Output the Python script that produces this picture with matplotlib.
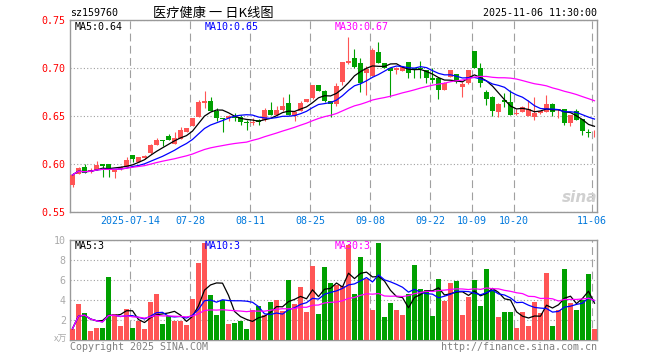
import matplotlib
matplotlib.use("Agg")
import matplotlib.pyplot as plt
import numpy as np
import pandas as pd

symbol = "sz159760"
title = "医疗健康 一 日K线图"
stamp = "2025-11-06 11:30:00"

# daily candles, 2025-06-30 .. 2025-11-06
opens = [0.578, 0.590, 0.5975, 0.5917, 0.5941, 0.600, 0.600, 0.5923, 0.5951, 0.5975,
         0.6094, 0.6027, 0.6063, 0.6115, 0.6201, 0.6253, 0.6292, 0.6211, 0.6264, 0.634,
         0.6399, 0.6496, 0.6635, 0.6659, 0.6558, 0.6485, 0.6479, 0.6496, 0.6496, 0.6444,
         0.6433, 0.6458, 0.6461, 0.6566, 0.6514, 0.6566, 0.6635, 0.6498, 0.656, 0.6652,
         0.6688, 0.6826, 0.6764, 0.6659, 0.6628, 0.686, 0.7052, 0.711, 0.7052, 0.6956,
         0.692, 0.7173, 0.7055, 0.6998, 0.6983, 0.6975, 0.7063, 0.6998, 0.700, 0.6982,
         0.6899, 0.6896, 0.6774, 0.6913, 0.6938, 0.6808, 0.6844, 0.718, 0.7006, 0.675,
         0.6704, 0.6548, 0.667, 0.6652, 0.6525, 0.655, 0.6505, 0.6496, 0.6531, 0.6548,
         0.6631, 0.6562, 0.6573, 0.6433, 0.6552, 0.6469, 0.634, 0.6322]
closes = [0.589, 0.5965, 0.5913, 0.5941, 0.5993, 0.5985, 0.5941, 0.5951, 0.5975, 0.6045,
          0.6058, 0.6071, 0.609, 0.6201, 0.6253, 0.6243, 0.6253, 0.6271, 0.6354, 0.6373,
          0.6479, 0.6646, 0.6659, 0.6558, 0.6485, 0.6475, 0.6506, 0.6485, 0.6444, 0.6427,
          0.6444, 0.644, 0.6566, 0.6514, 0.6566, 0.6607, 0.6514, 0.655, 0.6639, 0.668,
          0.6826, 0.6767, 0.6659, 0.6628, 0.6816, 0.7069, 0.7079, 0.7017, 0.6844, 0.6993,
          0.7191, 0.7058, 0.7008, 0.6977, 0.7002, 0.7014, 0.6954, 0.6982, 0.699, 0.6894,
          0.6878, 0.6774, 0.6852, 0.6982, 0.6854, 0.6833, 0.6982, 0.7006, 0.6844, 0.668,
          0.656, 0.6628, 0.6652, 0.6514, 0.6529, 0.6592, 0.6571, 0.6531, 0.6555, 0.6631,
          0.6548, 0.6573, 0.6427, 0.6514, 0.6461, 0.6352, 0.6323, 0.6328]
highs = [0.5895, 0.597, 0.600, 0.596, 0.6034, 0.6005, 0.600, 0.5955, 0.598, 0.6076,
         0.6095, 0.6075, 0.6095, 0.6211, 0.6271, 0.6255, 0.6316, 0.6333, 0.6385, 0.6375,
         0.648, 0.667, 0.6764, 0.6704, 0.6583, 0.6487, 0.6514, 0.6538, 0.6514, 0.6458,
         0.6479, 0.6475, 0.6583, 0.6652, 0.6607, 0.6704, 0.6732, 0.6552, 0.6663, 0.6685,
         0.683, 0.6828, 0.677, 0.666, 0.6844, 0.707, 0.7329, 0.7204, 0.7104, 0.7024,
         0.7208, 0.7271, 0.706, 0.700, 0.7014, 0.7015, 0.7065, 0.700, 0.7076, 0.6985,
         0.700, 0.690, 0.6855, 0.6985, 0.694, 0.686, 0.6985, 0.7185, 0.7052, 0.6774,
         0.671, 0.6642, 0.674, 0.6774, 0.6576, 0.6607, 0.667, 0.6704, 0.6558, 0.6722,
         0.6635, 0.6575, 0.6575, 0.6515, 0.6576, 0.647, 0.6368, 0.6357]
lows = [0.5765, 0.5895, 0.591, 0.591, 0.594, 0.5871, 0.587, 0.586, 0.5945, 0.597,
        0.6027, 0.602, 0.606, 0.611, 0.620, 0.6194, 0.625, 0.621, 0.626, 0.6335,
        0.6395, 0.649, 0.6583, 0.6555, 0.6451, 0.634, 0.6454, 0.6454, 0.641, 0.6357,
        0.641, 0.6405, 0.6455, 0.651, 0.651, 0.656, 0.651, 0.6454, 0.6555, 0.6648,
        0.668, 0.676, 0.665, 0.6496, 0.661, 0.6826, 0.705, 0.700, 0.675, 0.6727,
        0.6915, 0.7055, 0.700, 0.670, 0.694, 0.697, 0.6902, 0.6899, 0.6896, 0.6844,
        0.6844, 0.6683, 0.677, 0.691, 0.685, 0.6704, 0.684, 0.700, 0.6808, 0.6618,
        0.6503, 0.6496, 0.660, 0.651, 0.6514, 0.6545, 0.650, 0.6461, 0.6525, 0.6545,
        0.6503, 0.6482, 0.641, 0.6402, 0.646, 0.6305, 0.6288, 0.6288]
# volume in units of 10k lots
volumes = [1.13, 3.63, 2.7, 0.93, 1.23, 1.23, 6.3, 2.6, 1.4, 3.1,
           1.23, 1.9, 1.1, 3.8, 4.63, 1.6, 2.4, 1.9, 1.9, 1.5,
           4.1, 7.7, 9.73, 4.5, 2.5, 4.0, 1.6, 1.7, 1.9, 1.1,
           3.0, 3.4, 2.5, 3.8, 4.0, 2.9, 6.0, 3.6, 5.3, 2.8,
           7.4, 2.6, 7.3, 5.7, 5.5, 5.4, 9.5, 4.6, 8.33, 6.1,
           3.0, 9.73, 2.3, 3.7, 3.0, 2.5, 4.6, 7.5, 5.1, 5.0,
           2.4, 6.1, 3.9, 5.7, 5.9, 2.5, 4.3, 6.0, 3.4, 7.1,
           5.0, 2.3, 2.8, 2.8, 1.2, 2.8, 1.4, 3.8, 2.7, 6.7,
           1.4, 3.0, 7.1, 3.7, 3.0, 4.0, 6.6, 1.1]

tick_idx = [10, 20, 30, 40, 50, 60, 67, 74, 87]
tick_labels = ["2025-07-14", "07-28", "08-11", "08-25", "09-08",
               "09-22", "10-09", "10-20", "11-06"]
price_ticks = [0.55, 0.60, 0.65, 0.70, 0.75]
vol_ticks = [2, 4, 6, 8, 10]

RED = "#ff5555"
GREEN = "#00a000"
GRID = "#a0a0a0"
LIGHT = "#aaaaaa"
FRAME = "#999999"
BLUE = "#0078dc"
MONO = "DejaVu Sans Mono"
CJK = ["Noto Sans CJK SC", "DejaVu Sans"]
FS = 7.2

W, H = 660, 360


def fx(px):
    return px / W


def fy(py):
    return 1 - py / H


df = pd.DataFrame({"open": opens, "high": highs, "low": lows,
                   "close": closes, "vol": volumes})
x = np.arange(len(df))
up = (df["close"] >= df["open"]).to_numpy()
colors = np.where(up, RED, GREEN)

ma = {n: df["close"].rolling(n, min_periods=1).mean() for n in (5, 10, 30)}
vma = {n: df["vol"].rolling(n, min_periods=1).mean() for n in (5, 10, 30)}
ma_colors = {5: "black", 10: "#0000ff", 30: "#ff00ff"}

fig = plt.figure(figsize=(6.6, 3.6), dpi=100)
ax = fig.add_axes([fx(70), fy(212.3), 527 / W, 192 / H])
vax = fig.add_axes([fx(70), fy(340), 527 / W, 100 / H])

# candles
ax.vlines(x, df["low"], df["high"], colors=colors, linewidth=0.8, zorder=3)
body = (df["close"] - df["open"]).abs().clip(lower=0.0009)
ax.bar(x, body, bottom=np.minimum(df["open"], df["close"]), width=0.82,
       color=colors, linewidth=0, zorder=3)
for n in (5, 10, 30):
    ax.plot(x, ma[n], color=ma_colors[n], linewidth=0.9, zorder=4)

# volume
vax.bar(x, df["vol"], width=0.86, color=colors, linewidth=0, zorder=3)
for n in (5, 10, 30):
    vax.plot(x, vma[n], color=ma_colors[n], linewidth=0.9, zorder=4)

for a in (ax, vax):
    a.set_xlim(-0.417, 87.417)
    a.set_xticks(np.array(tick_idx) - 0.4)
    a.xaxis.grid(True, color=GRID, linestyle=(0, (7, 4)), linewidth=0.8)
    a.yaxis.grid(True, color=GRID, linestyle=(0, (1, 2)), linewidth=0.8)
    a.set_axisbelow(True)
    a.tick_params(length=0)
    for s in a.spines.values():
        s.set_color(FRAME)
        s.set_linewidth(1.0)

ax.set_ylim(0.55, 0.75)
ax.set_yticks(price_ticks)
ax.set_yticklabels([f"{v:.2f}" for v in price_ticks], color="#ff0000",
                   fontfamily=MONO, fontsize=FS)
ax.set_xticklabels(tick_labels, color=BLUE, fontfamily=MONO, fontsize=FS)
ax.tick_params(axis="y", pad=3)
ax.tick_params(axis="x", pad=3)

vax.set_ylim(0, 10)
vax.set_yticks(vol_ticks)
vax.set_yticklabels([str(v) for v in vol_ticks], color=LIGHT,
                    fontfamily=MONO, fontsize=FS)
vax.set_xticklabels([])
vax.tick_params(axis="y", pad=3)

# header
fig.text(fx(70), fy(13), symbol, fontfamily=MONO, fontsize=FS, va="center")
fig.text(fx(213), fy(13), title, family=CJK, fontsize=9.5, ha="center", va="center")
fig.text(fx(597), fy(13), stamp, fontfamily=MONO, fontsize=FS, ha="right", va="center")

# MA legends
for n, xpos in zip((5, 10, 30), (75, 205, 335)):
    fig.text(fx(xpos), fy(27), f"MA{n}:{ma[n].iloc[-1]:.2f}", color=ma_colors[n],
             fontfamily=MONO, fontsize=FS, va="center")
    fig.text(fx(xpos), fy(246), f"MA{n}:{int(vma[n].iloc[-1])}", color=ma_colors[n],
             fontfamily=MONO, fontsize=FS, va="center")

fig.text(fx(67), fy(339), "x万", family=CJK, fontsize=6.5, color=LIGHT,
         ha="right", va="center")

# watermark and footer
fig.text(fx(597), fy(197), "sina", color="#d0d0d0", fontsize=11, fontweight="bold",
         fontstyle="italic", ha="right", va="center")
fig.text(fx(70), fy(347), "Copyright 2025 SINA.COM", color="#808080",
         fontfamily=MONO, fontsize=FS, va="center")
fig.text(fx(597), fy(347), "http://finance.sina.com.cn", color="#808080",
         fontfamily=MONO, fontsize=FS, ha="right", va="center")

fig.savefig("out.png", dpi=100)
plt.close(fig)
